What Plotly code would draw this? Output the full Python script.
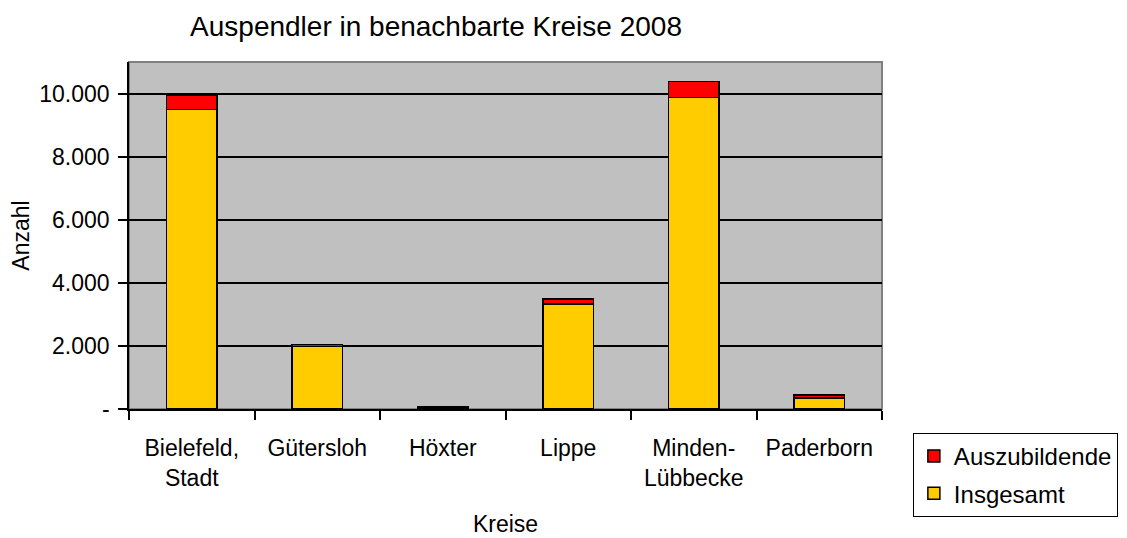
import plotly.graph_objects as go

categories = ["Bielefeld,<br>Stadt", "Gütersloh", "Höxter", "Lippe", "Minden-<br>Lübbecke", "Paderborn"]
insgesamt = [9490, 1980, 40, 3330, 9870, 355]
auszubildende = [445, 70, 20, 150, 510, 95]
ytick_vals = [0, 2000, 4000, 6000, 8000, 10000]
ytick_text = ["-", "2.000", "4.000", "6.000", "8.000", "10.000"]

FONT = "Liberation Sans, Arial, sans-serif"
FS = 23

fig = go.Figure()
fig.add_trace(go.Bar(
    x=categories, y=insgesamt, name="Insgesamt", legendgroup="ins", legendrank=2,
    marker=dict(color="#FFCC00", line=dict(color="black", width=1.5)),
))
fig.add_trace(go.Bar(
    x=categories, y=auszubildende, name="Auszubildende", legendgroup="azu", legendrank=1,
    marker=dict(color="#FF0000", line=dict(color="black", width=1.5)),
))

fig.update_layout(
    barmode="stack",
    bargap=0.6,
    width=1119, height=530,
    margin=dict(l=121, r=245, t=54, b=129, autoexpand=False),
    paper_bgcolor="white",
    plot_bgcolor="#C0C0C0",
    font=dict(family=FONT, size=FS, color="black"),
    title=dict(text="Auspendler in benachbarte Kreise 2008", x=0.3825, xref="container",
               xanchor="center", y=0.966, yref="container", yanchor="middle",
               font=dict(size=28, family=FONT, color="black")),
    legend=dict(traceorder="grouped", tracegroupgap=3,
                x=1.041, xanchor="left", y=-0.069, yanchor="top",
                bordercolor="black", borderwidth=1, bgcolor="white",
                font=dict(size=24, family=FONT)),
    showlegend=True,
)

fig.update_xaxes(
    title=dict(text="Kreise", font=dict(size=FS), standoff=26),
    automargin=False,
    showgrid=False, showline=True, linecolor="black", linewidth=1.5,
    ticks="outside", tickson="boundaries", ticklen=9, tickcolor="black", tickwidth=1.5,
    ticklabelstandoff=18,
)
fig.update_yaxes(
    title=dict(text="Anzahl", font=dict(size=FS), standoff=4),
    automargin=False,
    range=[0, 11000], tickvals=ytick_vals, ticktext=ytick_text,
    showgrid=True, gridcolor="black", gridwidth=1.5,
    showline=True, linecolor="black", linewidth=1.5,
    ticks="outside", ticklen=9, tickcolor="black", tickwidth=1.5,
    ticklabelstandoff=4,
    zeroline=False,
)
fig.add_shape(type="rect", xref="paper", yref="paper", x0=0, y0=0, x1=1, y1=1,
              line=dict(color="#808080", width=2), layer="below")

fig.write_html("out.html")
